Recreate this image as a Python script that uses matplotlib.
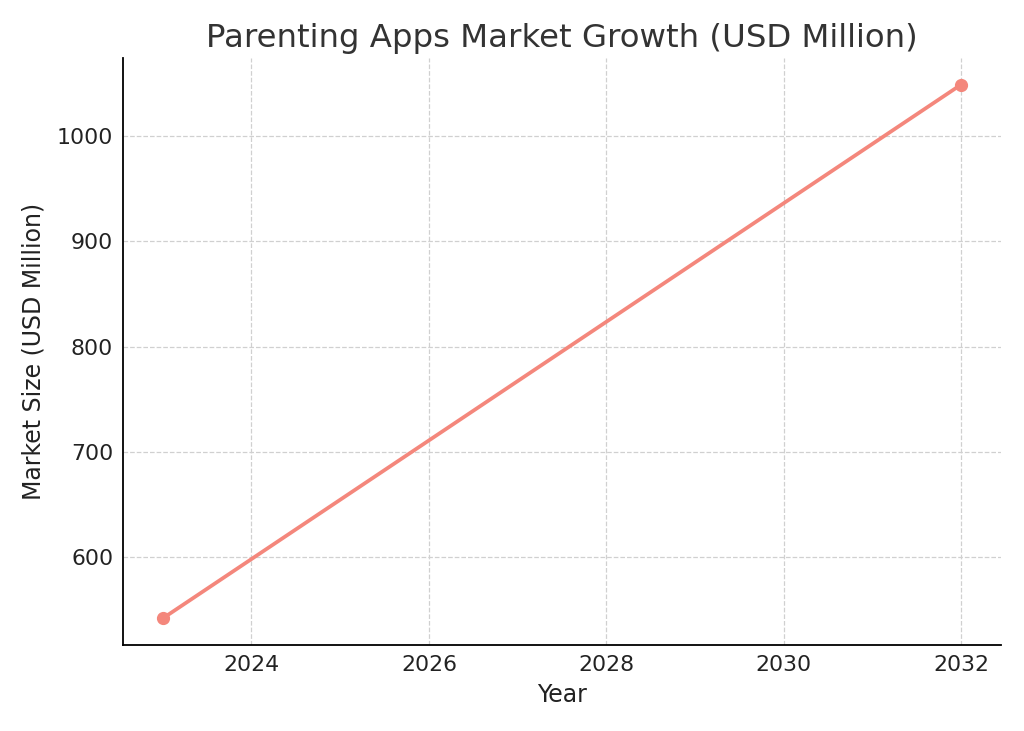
import matplotlib
matplotlib.use("Agg")
import matplotlib.pyplot as plt

years = [2023, 2032]
market_size = [542, 1049]

fig = plt.figure(figsize=(10.24, 7.31), dpi=100)
ax = fig.add_axes([0.120, 0.1176, 0.8575, 0.8031])

ax.plot(years, market_size, color="#F4877C", linewidth=2.7, marker="o", markersize=8.5)

ax.set_title("Parenting Apps Market Growth (USD Million)", fontsize=23.3, color="#333333", pad=8)
ax.set_xlabel("Year", fontsize=17, color="#222222", labelpad=6)
ax.set_ylabel("Market Size (USD Million)", fontsize=17, color="#222222", labelpad=8)
ax.set_xticks([2024, 2026, 2028, 2030, 2032])
ax.set_yticks([600, 700, 800, 900, 1000])
ax.tick_params(labelsize=15.8, labelcolor="#222222", length=0, pad=7)
ax.grid(True, linestyle="--", color="#d0d0d0", linewidth=0.9)
ax.spines["top"].set_visible(False)
ax.spines["right"].set_visible(False)
ax.spines["left"].set_linewidth(1.3)
ax.spines["bottom"].set_linewidth(1.3)

fig.savefig("out.png", dpi=100)
